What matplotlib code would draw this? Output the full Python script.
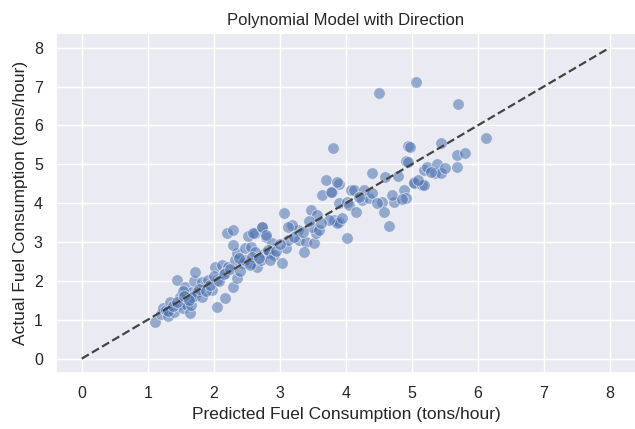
import matplotlib
matplotlib.use("Agg")
import matplotlib.pyplot as plt
import seaborn as sns
import numpy as np

# predicted vs actual fuel consumption (tons/hour)
predicted = [
    1.11, 1.20, 1.23, 1.28, 1.30, 1.34, 1.40, 1.45, 1.49, 1.50, 1.54, 1.57, 1.60, 1.64, 1.66, 1.67,
    1.70, 1.72, 1.72, 1.75, 1.67, 1.83, 1.54, 1.97, 1.82, 1.91, 2.05, 2.02, 2.12, 2.22, 2.17, 2.29,
    2.17, 2.05, 2.32, 2.44, 2.56, 2.35, 2.35, 2.29, 2.47, 2.56, 2.20, 2.29, 2.52, 2.62, 2.73, 2.80,
    2.88, 2.77, 2.84, 2.62, 2.66, 2.72, 2.82, 2.92, 2.85, 3.04, 3.10, 2.60, 3.12, 3.30, 3.40, 3.37,
    3.52, 3.55, 3.49, 3.60, 3.27, 3.19, 3.13, 2.73, 2.80, 3.06, 3.48, 3.57, 3.64, 3.70, 3.80, 3.90,
    3.90, 3.83, 3.90, 4.02, 4.08, 3.78, 3.81, 3.87, 3.87, 3.75, 4.02, 4.05, 4.16, 4.25, 4.35, 4.13,
    4.28, 4.40, 4.40, 4.55, 4.58, 4.60, 4.65, 4.73, 4.80, 4.88, 4.91, 4.91, 4.95, 4.95, 4.98, 5.03,
    5.03, 5.15, 5.18, 5.18, 5.23, 5.36, 5.38, 5.44, 5.44, 5.68, 5.68, 5.81, 6.13, 4.50, 5.07, 5.70,
    1.30, 1.38, 1.45, 1.55, 1.62, 1.78, 1.88, 1.95, 2.00, 2.08, 2.15, 2.25, 2.40, 2.48, 2.58, 2.68,
    2.95, 3.00, 3.22, 3.35, 3.45, 3.62, 3.95, 4.20, 4.48, 4.70, 4.85, 5.10, 5.30, 5.50, 2.38, 2.55,
]
actual = [
    0.95, 1.15, 1.31, 1.25, 1.10, 1.46, 1.20, 2.03, 1.59, 1.40, 1.31, 1.85, 1.38, 1.18, 1.38, 1.72,
    2.00, 2.23, 1.60, 1.72, 1.59, 1.59, 1.75, 1.77, 1.97, 2.03, 2.03, 2.36, 2.41, 2.36, 2.20, 1.85,
    1.56, 1.33, 2.54, 2.46, 2.46, 2.08, 2.72, 2.92, 2.85, 2.87, 3.23, 3.30, 3.15, 3.23, 3.38, 3.13,
    2.97, 2.72, 2.72, 2.75, 2.36, 2.54, 2.79, 2.67, 2.54, 2.46, 2.85, 3.23, 3.05, 3.05, 3.00, 2.74,
    2.97, 3.23, 3.38, 3.31, 3.30, 3.44, 3.40, 3.38, 3.18, 3.74, 3.82, 3.69, 4.20, 4.59, 4.28, 4.50,
    4.00, 3.56, 3.51, 3.10, 4.33, 4.30, 5.43, 4.54, 3.50, 3.56, 4.03, 3.95, 3.77, 4.08, 4.13, 4.33,
    4.33, 4.25, 4.77, 4.03, 3.77, 4.67, 3.41, 4.03, 4.69, 4.33, 4.13, 5.08, 5.46, 5.05, 5.44, 4.54,
    4.51, 4.46, 4.85, 4.46, 4.93, 4.77, 5.02, 4.77, 5.54, 5.23, 4.92, 5.28, 5.67, 6.83, 7.11, 6.56,
    1.22, 1.35, 1.45, 1.62, 1.52, 1.80, 1.75, 1.90, 2.12, 2.00, 2.18, 2.30, 2.25, 2.55, 2.62, 2.58,
    2.78, 2.95, 3.12, 3.25, 3.55, 3.48, 3.62, 4.15, 4.00, 4.20, 4.10, 4.60, 4.80, 4.90, 2.60, 2.40,
]
line_x = [0, 8]
line_y = [0, 8]

sns.set_theme(style="darkgrid")
plt.rcParams['font.family'] = ['Liberation Sans', 'DejaVu Sans']

fig = plt.figure(figsize=(6.35, 4.29), dpi=100)
ax = fig.add_axes([56 / 635, 56 / 429, 580 / 635, 340 / 429])
sns.scatterplot(x=predicted, y=actual, alpha=0.55, s=70, ax=ax)
ax.plot(line_x, line_y, "--", color="#444444", linewidth=1.6)

ax.set_xlim(-0.39, 8.4)
ax.set_ylim(-0.37, 8.38)
ax.set_xticks(range(0, 9))
ax.set_yticks(range(0, 9))
ax.tick_params(labelsize=11.5)
ax.set_xlabel("Predicted Fuel Consumption (tons/hour)", fontsize=12.5)
ax.set_ylabel("Actual Fuel Consumption (tons/hour)", fontsize=12.5)
ax.set_title("Polynomial Model with Direction", fontsize=12)

fig.savefig("out.png", dpi=100)
